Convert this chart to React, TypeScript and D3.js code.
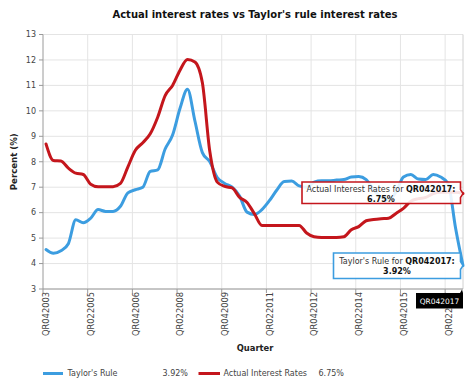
import React from "react";
import * as d3 from "d3";

const quarters = [
  "QR042003",
  "QR012004", "QR022004", "QR032004", "QR042004",
  "QR012005", "QR022005", "QR032005", "QR042005",
  "QR012006", "QR022006", "QR032006", "QR042006",
  "QR012007", "QR022007", "QR032007", "QR042007",
  "QR012008", "QR022008", "QR032008", "QR042008",
  "QR012009", "QR022009", "QR032009", "QR042009",
  "QR012010", "QR022010", "QR032010", "QR042010",
  "QR012011", "QR022011", "QR032011", "QR042011",
  "QR012012", "QR022012", "QR032012", "QR042012",
  "QR012013", "QR022013", "QR032013", "QR042013",
  "QR012014", "QR022014", "QR032014", "QR042014",
  "QR012015", "QR022015", "QR032015", "QR042015",
  "QR012016", "QR022016", "QR032016", "QR042016",
  "QR012017", "QR022017", "QR032017", "QR042017",
];

const taylorRule = [
  4.55, 4.4, 4.5, 4.78, 5.72, 5.6, 5.78, 6.12, 6.05, 6.05,
  6.25, 6.78, 6.9, 7.0, 7.62, 7.68, 8.5, 9.05, 10.1, 10.85,
  9.6, 8.36, 8.0, 7.38, 7.15, 7.0, 6.65, 6.02, 5.93, 6.12,
  6.47, 6.89, 7.22, 7.24, 7.05, 7.0, 7.2, 7.25, 7.25, 7.28,
  7.3, 7.4, 7.42, 7.3, 6.9, 6.6, 6.5, 6.8, 7.4, 7.5,
  7.32, 7.3, 7.5, 7.4, 7.15, 5.4, 3.92,
];

const actualRates = [
  8.7, 8.05, 8.03, 7.75, 7.55, 7.5, 7.12, 7.02, 7.02, 7.02,
  7.15, 7.8, 8.45, 8.75, 9.1, 9.75, 10.6, 11.0, 11.6, 12.02,
  11.92, 11.1, 8.4, 7.2, 7.03, 6.97, 6.6, 6.4, 5.95, 5.5,
  5.5, 5.5, 5.5, 5.5, 5.5, 5.2, 5.05, 5.02, 5.02, 5.02,
  5.05, 5.33, 5.45, 5.68, 5.73, 5.76, 5.78, 5.97, 6.17, 6.45,
  6.55, 6.6, 6.75, 6.8, 6.8, 6.8, 6.75,
];

const yTicks = [3, 4, 5, 6, 7, 8, 9, 10, 11, 12, 13];
const labelStep = 6;

const BLUE = "#3c9de0";
const RED = "#c4161c";
const FONT = "'DejaVu Sans', Verdana, sans-serif";

export default function App() {
  const left = 43;
  const right = 463;
  const top = 34.5;
  const bottom = 289;

  const x = d3.scalePoint<string>().domain(quarters).range([46, 463]);
  const y = d3.scaleLinear().domain([3, 13]).range([bottom, top]);
  const half = x.step() / 2.5;

  const lineGen = d3
    .line<number>()
    .x((_, i) => x(quarters[i]) as number)
    .y((d) => y(d))
    .curve(d3.curveMonotoneX);

  const labelIdx = quarters.map((_, i) => i).filter((i) => i % labelStep === 0);
  const gridXs = labelIdx.filter((i) => i > 0).map((i) => (x(quarters[i]) as number) - half);

  const lastIdx = quarters.length - 1;
  const lastQ = quarters[lastIdx];
  const lastX = x(lastQ) as number;
  const redY = y(actualRates[lastIdx]);
  const blueY = y(taylorRule[lastIdx]);

  const callout = (l: number, t: number, r: number, b: number, py: number, px: number) =>
    `M${l},${t}H${r}V${py - 4}L${px},${py}L${r},${py + 4}V${b}H${l}Z`;

  return (
    <svg
      width={474}
      height={383}
      style={{ position: "absolute", left: 0, top: 0, background: "#fff" }}
      fontFamily={FONT}
    >
      <rect x={0} y={0} width={474} height={383} fill="#fff" />
      <text x={255} y={18} textAnchor="middle" fontSize={10} fontWeight="bold" fill="#111">
        Actual interest rates vs Taylor's rule interest rates
      </text>

      {/* horizontal grid */}
      {yTicks.map((t) => (
        <g key={"y" + t}>
          <line x1={left} x2={right} y1={y(t)} y2={y(t)} stroke="#e4e4e4" strokeWidth={1} />
          <line x1={left - 4} x2={left} y1={y(t)} y2={y(t)} stroke="#9a9a9a" strokeWidth={1} />
          <text x={36} y={y(t)} dy="0.35em" textAnchor="end" fontSize={8} fill="#444">
            {t}
          </text>
        </g>
      ))}
      {/* vertical grid */}
      {gridXs.map((gx, k) => (
        <g key={"gx" + k}>
          <line x1={gx} x2={gx} y1={top} y2={bottom} stroke="#e4e4e4" strokeWidth={1} />
          <line x1={gx} x2={gx} y1={bottom} y2={bottom + 4} stroke="#9a9a9a" strokeWidth={1} />
        </g>
      ))}
      <line x1={right} x2={right} y1={top} y2={bottom} stroke="#d0d0d0" strokeWidth={1} />
      {/* axes */}
      <line x1={left} x2={left} y1={top} y2={bottom + 4} stroke="#9a9a9a" strokeWidth={1} />
      <line x1={left} x2={right} y1={bottom} y2={bottom} stroke="#9a9a9a" strokeWidth={1} />

      {/* x labels */}
      {labelIdx.map((i) => {
        const lx = (x(quarters[i]) as number) + 0.5;
        return (
          <text
            key={"xl" + i}
            transform={`translate(${lx},${bottom + 3}) rotate(-90)`}
            dy="0.35em"
            textAnchor="end"
            fontSize={8.3}
            fill="#444"
          >
            {quarters[i]}
          </text>
        );
      })}

      {/* axis titles */}
      <text
        transform={`translate(17,${(top + bottom) / 2}) rotate(-90)`}
        textAnchor="middle"
        fontSize={8.6}
        fontWeight="bold"
        fill="#222"
      >
        Percent (%)
      </text>
      <text x={255} y={351} textAnchor="middle" fontSize={8.4} fontWeight="bold" fill="#222">
        Quarter
      </text>

      {/* series */}
      <path d={lineGen(taylorRule) || ""} fill="none" stroke={BLUE} strokeWidth={3} strokeLinejoin="round" strokeLinecap="round" />
      <path d={lineGen(actualRates) || ""} fill="none" stroke={RED} strokeWidth={3} strokeLinejoin="round" strokeLinecap="round" />

      {/* tooltips */}
      <path d={callout(302, 182, 460.5, 203.5, redY, lastX)} fill="#fff" fillOpacity={0.88} stroke={RED} strokeWidth={1.6} />
      <text x={381} y={191.5} textAnchor="middle" fontSize={8} fill="#333">
        Actual Interest Rates for <tspan fontWeight="bold" fill="#111">{lastQ}:</tspan>
      </text>
      <text x={381} y={201.5} textAnchor="middle" fontSize={8} fontWeight="bold" fill="#111">
        {actualRates[lastIdx].toFixed(2)}%
      </text>

      <path d={callout(333.5, 253, 460.5, 278.5, blueY, lastX)} fill="#fff" fillOpacity={0.88} stroke={BLUE} strokeWidth={1.6} />
      <text x={397} y={263.5} textAnchor="middle" fontSize={8} fill="#333">
        Taylor's Rule for <tspan fontWeight="bold" fill="#111">{lastQ}:</tspan>
      </text>
      <text x={397} y={273.5} textAnchor="middle" fontSize={8} fontWeight="bold" fill="#111">
        {taylorRule[lastIdx].toFixed(2)}%
      </text>

      {/* crosshair label */}
      <path d={`M416,293H${lastX - 3}L${lastX - 1},289.5L${lastX},293V308.5H416Z`} fill="#000" />
      <text x={439.5} y={301} dy="0.35em" textAnchor="middle" fontSize={7.5} fill="#fff">
        {lastQ}
      </text>

      {/* legend */}
      <line x1={43} x2={63} y1={373.5} y2={373.5} stroke={BLUE} strokeWidth={3} />
      <text x={67.5} y={376.3} fontSize={8} fill="#444">Taylor's Rule</text>
      <text x={162.5} y={376.3} fontSize={8} fill="#444">{taylorRule[lastIdx].toFixed(2)}%</text>
      <line x1={198.5} x2={220} y1={373.5} y2={373.5} stroke={RED} strokeWidth={3} />
      <text x={223.5} y={376.3} fontSize={8} fill="#444">Actual Interest Rates</text>
      <text x={318.5} y={376.3} fontSize={8} fill="#444">{actualRates[lastIdx].toFixed(2)}%</text>
    </svg>
  );
}
